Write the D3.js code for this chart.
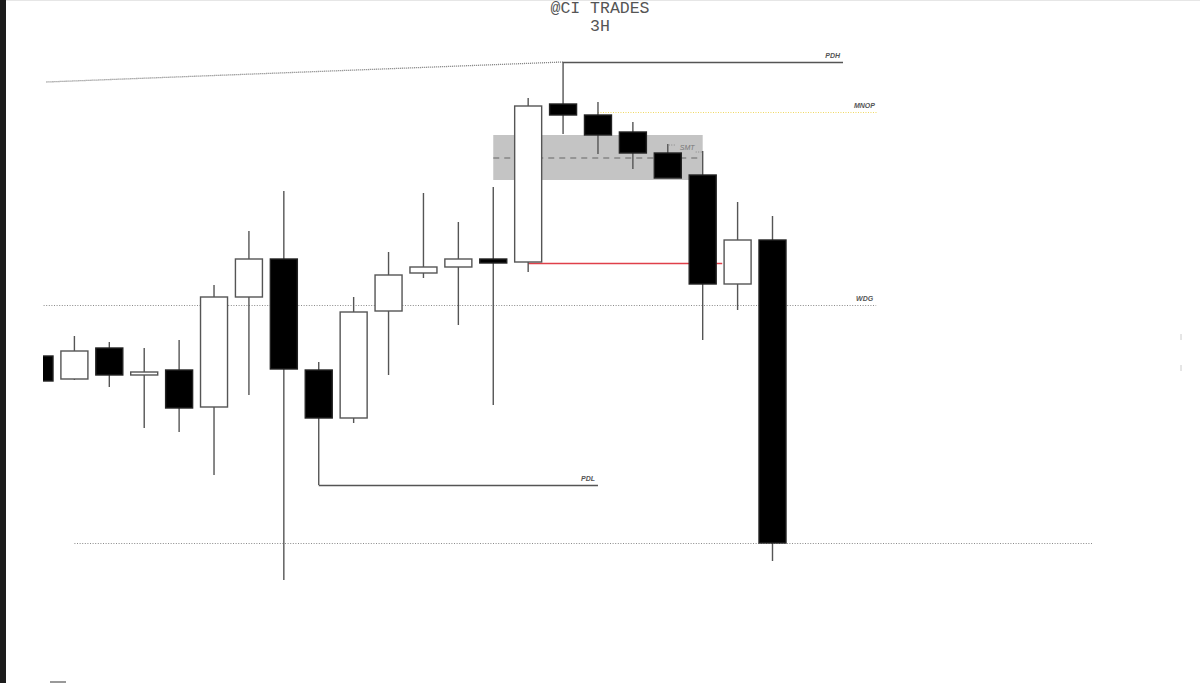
<!DOCTYPE html>
<html><head><meta charset="utf-8">
<script src="https://cdn.jsdelivr.net/npm/d3@7"></script>
<style>html,body{margin:0;padding:0;background:#fff;}svg{display:block;}</style>
</head><body>
<svg id="c" width="1200" height="683"></svg>
<script>
// ---- data (3H candles) ----
const opens  = [2122, 2110.5, 2126, 2112.5, 2115, 2096.5, 2151.5, 2170.5, 2115, 2091, 2144.5, 2163.5, 2166.5, 2170.5, 2169, 2248, 2242.5, 2234, 2223.5, 2212.5, 2158, 2180];
const highs  = [2122, 2132, 2129, 2126, 2130, 2157.5, 2184.5, 2204.5, 2119, 2151.5, 2174, 2203.5, 2189, 2206.5, 2251, 2269, 2249, 2239, 2228, 2224.5, 2199, 2192];
const lows   = [2109.5, 2110, 2106.5, 2086, 2084, 2062.5, 2102.5, 2010, 2057.5, 2088.5, 2112.5, 2161, 2137.5, 2097.5, 2164, 2233, 2223, 2215.5, 2211, 2130, 2145, 2019.5];
const closes = [2109.5, 2124.5, 2112.5, 2114, 2096, 2151.5, 2170.5, 2115.5, 2091, 2144, 2162.5, 2166.5, 2170.5, 2168.5, 2247, 2242.5, 2232.5, 2223.5, 2211, 2158, 2180, 2028.5];

// levels: [label, price, startIndex, endIndex]
const levelNames  = ["PDH", "MNOP", "WDG", "PDL", "", ""];
const levelPrices = [2269, 2244, 2147.5, 2057.5, 2028.5, 2168.5];
const levelStart  = [15, 16, -1, 8, 1, 14];
const levelEnd    = [23.02, 24.02, 23.97, 16, 30.2, 19.56];
const levelKind   = ["solid", "yellowdot", "dot", "solid", "dot", "red"];

// trendline (index, price)
const trendIdx   = [0.2, 15];
const trendPrice = [2259, 2269];

// premium/discount zone
const zoneIdx   = [13, 19];
const zonePrice = [2210, 2232.5];
const zoneMid   = 2221;

// SMT marker between candles
const smtIdx = [18, 19];

const titleLines = ["@CI TRADES", "3H"];

// ---- scales ----
const svg = d3.select("#c");
const x = d3.scaleLinear().domain([0, 21]).range([39.5, 772.5]);
const y = d3.scaleLinear().domain([2000, 2300]).range([600, 0]);
const bw = 27;

svg.append("defs").append("clipPath").attr("id", "plot")
  .append("rect").attr("x", 43).attr("y", 0).attr("width", 1157).attr("height", 683);

// frame bits
svg.append("rect").attr("x", 0).attr("y", 0).attr("width", 6).attr("height", 683).attr("fill", "#1c1c1c");
svg.append("line").attr("x1", 6).attr("x2", 1200).attr("y1", 0.5).attr("y2", 0.5).attr("stroke", "#e6e6e6");
svg.append("line").attr("x1", 50).attr("x2", 66).attr("y1", 682).attr("y2", 682).attr("stroke", "#777").attr("stroke-width", 1.5);

const g = svg.append("g").attr("clip-path", "url(#plot)");

// zone
g.append("rect")
  .attr("x", x(zoneIdx[0])).attr("width", x(zoneIdx[1]) - x(zoneIdx[0]))
  .attr("y", y(zonePrice[1])).attr("height", y(zonePrice[0]) - y(zonePrice[1]))
  .attr("fill", "#c4c4c4");
g.append("line")
  .attr("x1", x(zoneIdx[0])).attr("x2", x(zoneIdx[1]))
  .attr("y1", y(zoneMid)).attr("y2", y(zoneMid))
  .attr("stroke", "#666").attr("stroke-width", 1).attr("stroke-dasharray", "6,5");

// trendline
g.append("line")
  .attr("x1", x(trendIdx[0])).attr("x2", x(trendIdx[1]))
  .attr("y1", y(trendPrice[0])).attr("y2", y(trendPrice[1]))
  .attr("stroke", "#777").attr("stroke-width", 1.3).attr("stroke-dasharray", "1,1");

// levels
levelPrices.forEach((p, i) => {
  const k = levelKind[i];
  const ln = g.append("line")
    .attr("x1", x(levelStart[i])).attr("x2", x(levelEnd[i]))
    .attr("y1", Math.round(y(p)) + 0.5).attr("y2", Math.round(y(p)) + 0.5);
  if (k === "solid") ln.attr("stroke", "#555").attr("stroke-width", 1.3);
  else if (k === "yellowdot") ln.attr("stroke", "#f0d860").attr("stroke-width", 1).attr("stroke-dasharray", "1,1.5");
  else if (k === "dot") ln.attr("stroke", "#8a8a8a").attr("stroke-width", 1.2).attr("stroke-dasharray", "1,1.6");
  else if (k === "red") ln.attr("stroke", "#e0404a").attr("stroke-width", 1.3);
  if (levelNames[i]) {
    g.append("text")
      .attr("x", x(levelEnd[i]) - 3).attr("y", Math.round(y(p)) - 4)
      .attr("text-anchor", "end")
      .attr("font-family", "Liberation Sans, Arial, sans-serif")
      .attr("font-style", "italic").attr("font-weight", "bold")
      .attr("font-size", 7).attr("fill", "#555")
      .text(levelNames[i]);
  }
});

// candles
const data = opens.map((o, i) => ({i, o, h: highs[i], l: lows[i], c: closes[i]}));
const cg = g.selectAll("g.candle").data(data).join("g").attr("class", "candle");
cg.append("line")
  .attr("x1", d => x(d.i)).attr("x2", d => x(d.i))
  .attr("y1", d => y(d.h)).attr("y2", d => y(d.l))
  .attr("stroke", "#555").attr("stroke-width", 1.4);
cg.append("rect")
  .attr("x", d => x(d.i) - bw / 2).attr("width", bw)
  .attr("y", d => y(Math.max(d.o, d.c)))
  .attr("height", d => Math.max(2, Math.abs(y(d.o) - y(d.c))))
  .attr("fill", d => d.c < d.o ? "#000" : "#fff")
  .attr("stroke", d => d.c < d.o ? "#222" : "#555")
  .attr("stroke-width", 1.4);

// SMT marker
const smtY = y(highs[smtIdx[0]]);
g.append("line").attr("x1", x(smtIdx[0]) + 1).attr("x2", x(smtIdx[0]) + 8)
  .attr("y1", smtY + 1).attr("y2", smtY + 1)
  .attr("stroke", "#888").attr("stroke-dasharray", "1,1.5");
g.append("text")
  .attr("x", (x(smtIdx[0]) + x(smtIdx[1])) / 2 + 2).attr("y", smtY + 6)
  .attr("text-anchor", "middle")
  .attr("font-family", "Liberation Sans, Arial, sans-serif")
  .attr("font-style", "italic").attr("font-size", 7).attr("fill", "#777")
  .text("SMT");
g.append("line").attr("x1", x(smtIdx[1]) - 7).attr("x2", x(smtIdx[1]) - 1)
  .attr("y1", y(highs[smtIdx[1]]) + 1).attr("y2", y(highs[smtIdx[1]]) + 1)
  .attr("stroke", "#888").attr("stroke-dasharray", "1,1.5");

// right-edge tiny marks
[2131.5, 2116].forEach(p => {
  svg.append("line").attr("x1", 1181).attr("x2", 1181)
    .attr("y1", y(p) - 3).attr("y2", y(p) + 3).attr("stroke", "#ccc");
});

// title
svg.selectAll("text.title").data(titleLines).join("text").attr("class", "title")
  .attr("x", 600).attr("y", (d, i) => 13 + i * 18)
  .attr("text-anchor", "middle")
  .attr("font-family", "Liberation Mono, Courier New, monospace")
  .attr("font-size", 16.5).attr("fill", "#555")
  .text(d => d);
</script>
</body></html>
